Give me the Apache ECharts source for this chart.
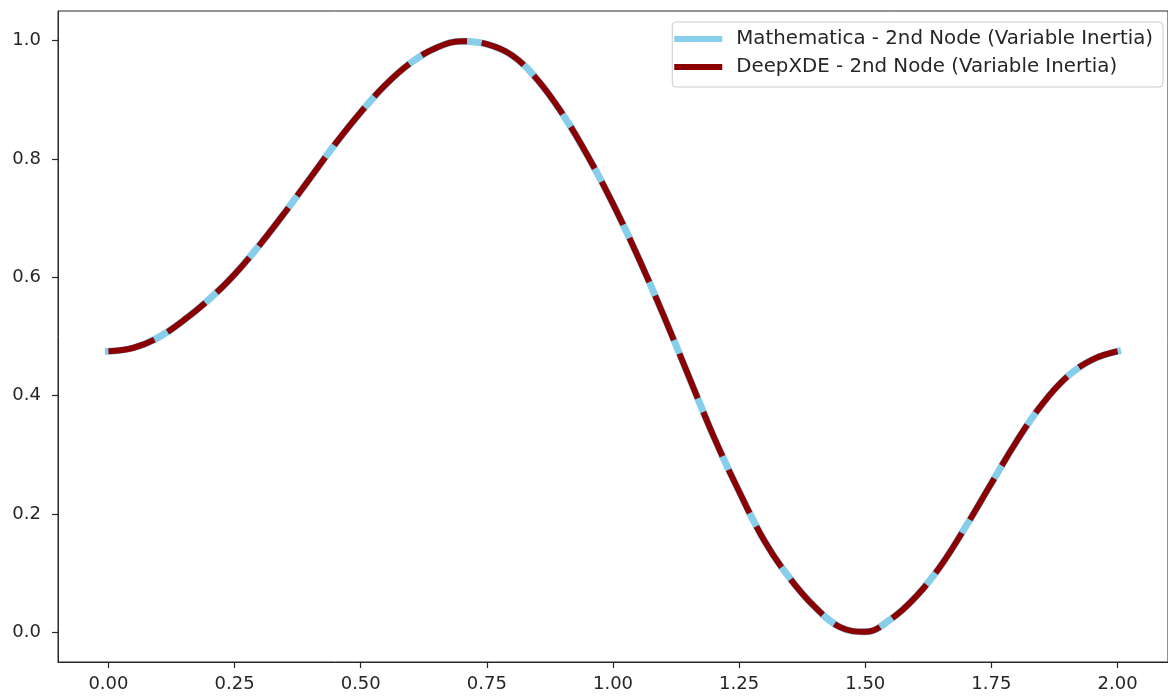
<!DOCTYPE html>
<html lang="en">
<head>
    <meta charset="UTF-8">
    <title>2nd Node (Variable Inertia)</title>
    <script src="https://cdn.jsdelivr.net/npm/echarts@6/dist/echarts.min.js"></script>
    <style>
        html, body { margin: 0; padding: 0; background: #fff; }
        #chart { width: 1168px; height: 698px; }
    </style>
</head>
<body>
    <div id="chart"></div>

    <script>
        // values
        const xs = [0.00, 0.05, 0.10, 0.15, 0.20, 0.25, 0.30, 0.35, 0.40, 0.45,
                    0.50, 0.55, 0.60, 0.65, 0.70, 0.75, 0.80, 0.85, 0.90, 0.95,
                    1.00, 1.05, 1.10, 1.15, 1.20, 1.25, 1.30, 1.35, 1.40, 1.45,
                    1.50, 1.55, 1.60, 1.65, 1.70, 1.75, 1.80, 1.85, 1.90, 1.95, 2.00];
        const mathematicaY = [0.475, 0.481, 0.499, 0.528, 0.563, 0.605, 0.655, 0.710, 0.768, 0.826,
                              0.879, 0.926, 0.963, 0.988, 0.999, 0.994, 0.975, 0.934, 0.876, 0.805,
                              0.724, 0.634, 0.536, 0.433, 0.330, 0.238, 0.155, 0.092, 0.043, 0.009,
                              0.001, 0.022, 0.060, 0.113, 0.180, 0.252, 0.323, 0.385, 0.432, 0.461, 0.475];
        const deepxdeY = mathematicaY.slice();   // the two curves lie on top of each other

        const xTicks = [0, 0.25, 0.5, 0.75, 1, 1.25, 1.5, 1.75, 2];
        const xTickLabels = ['0.00', '0.25', '0.50', '0.75', '1.00', '1.25', '1.50', '1.75', '2.00'];
        const yTicks = [0, 0.2, 0.4, 0.6, 0.8, 1.0];
        const yTickLabels = ['0.0', '0.2', '0.4', '0.6', '0.8', '1.0'];

        const seriesNames = ['Mathematica - 2nd Node (Variable Inertia)', 'DeepXDE - 2nd Node (Variable Inertia)'];
        const blue = '#87CEEB';
        const darkRed = '#8B0000';
        const ink = '#262626';

        const font = 'DejaVu Sans';
        const labelFor = (ticks, labels) => v => {
            const i = ticks.findIndex(t => Math.abs(t - v) < 1e-9);
            return i >= 0 ? labels[i] : '';
        };

        const chart = echarts.init(document.getElementById('chart'), null, { renderer: 'canvas' });

        const option = {
            animation: false,
            backgroundColor: '#fff',
            grid: {
                left: 58, top: 11, width: 1113, height: 651,
                show: true, borderColor: ink, borderWidth: 1, backgroundColor: 'transparent'
            },
            legend: {
                orient: 'vertical',
                right: 5, top: 22,
                padding: [7, 10, 10, 2],
                itemGap: 8,
                itemWidth: 48, itemHeight: 6,
                backgroundColor: '#fff',
                borderColor: '#cccccc', borderWidth: 1, borderRadius: 4,
                textStyle: { fontFamily: font, fontSize: 19.8, color: ink, lineHeight: 20, padding: [0, 0, 0, 9] },
                data: [
                    { name: seriesNames[0], icon: 'rect', itemStyle: { color: blue } },
                    { name: seriesNames[1], icon: 'rect', itemStyle: { color: darkRed } }
                ]
            },
            xAxis: {
                type: 'value',
                min: -0.1, max: 2.1,
                axisLine: { show: true, onZero: false, lineStyle: { color: ink, width: 1 } },
                splitLine: { show: false },
                axisTick: { show: true, inside: false, length: 6, lineStyle: { color: ink, width: 1.2 }, customValues: xTicks },
                axisLabel: {
                    customValues: xTicks, formatter: labelFor(xTicks, xTickLabels),
                    fontFamily: font, fontSize: 18, color: ink, margin: 13
                }
            },
            yAxis: {
                type: 'value',
                min: -0.05, max: 1.05,
                axisLine: { show: true, onZero: false, lineStyle: { color: ink, width: 1 } },
                splitLine: { show: false },
                axisTick: { show: true, inside: false, length: 6, lineStyle: { color: ink, width: 1.2 }, customValues: yTicks },
                axisLabel: {
                    customValues: yTicks, formatter: labelFor(yTicks, yTickLabels),
                    fontFamily: font, fontSize: 18, color: ink, margin: 17
                }
            },
            series: [
                {
                    name: seriesNames[0],
                    type: 'line',
                    data: xs.map((x, i) => [x, mathematicaY[i]]),
                    smooth: 0.4,
                    showSymbol: false,
                    itemStyle: { color: blue },
                    lineStyle: { color: blue, width: 7, cap: 'square' },
                    z: 2
                },
                {
                    name: seriesNames[1],
                    type: 'line',
                    data: xs.map((x, i) => [x, deepxdeY[i]]),
                    smooth: 0.4,
                    showSymbol: false,
                    itemStyle: { color: darkRed },
                    lineStyle: { color: darkRed, width: 6, type: [48, 15], cap: 'butt' },
                    z: 3
                }
            ]
        };

        chart.setOption(option);
    </script>
</body>
</html>
